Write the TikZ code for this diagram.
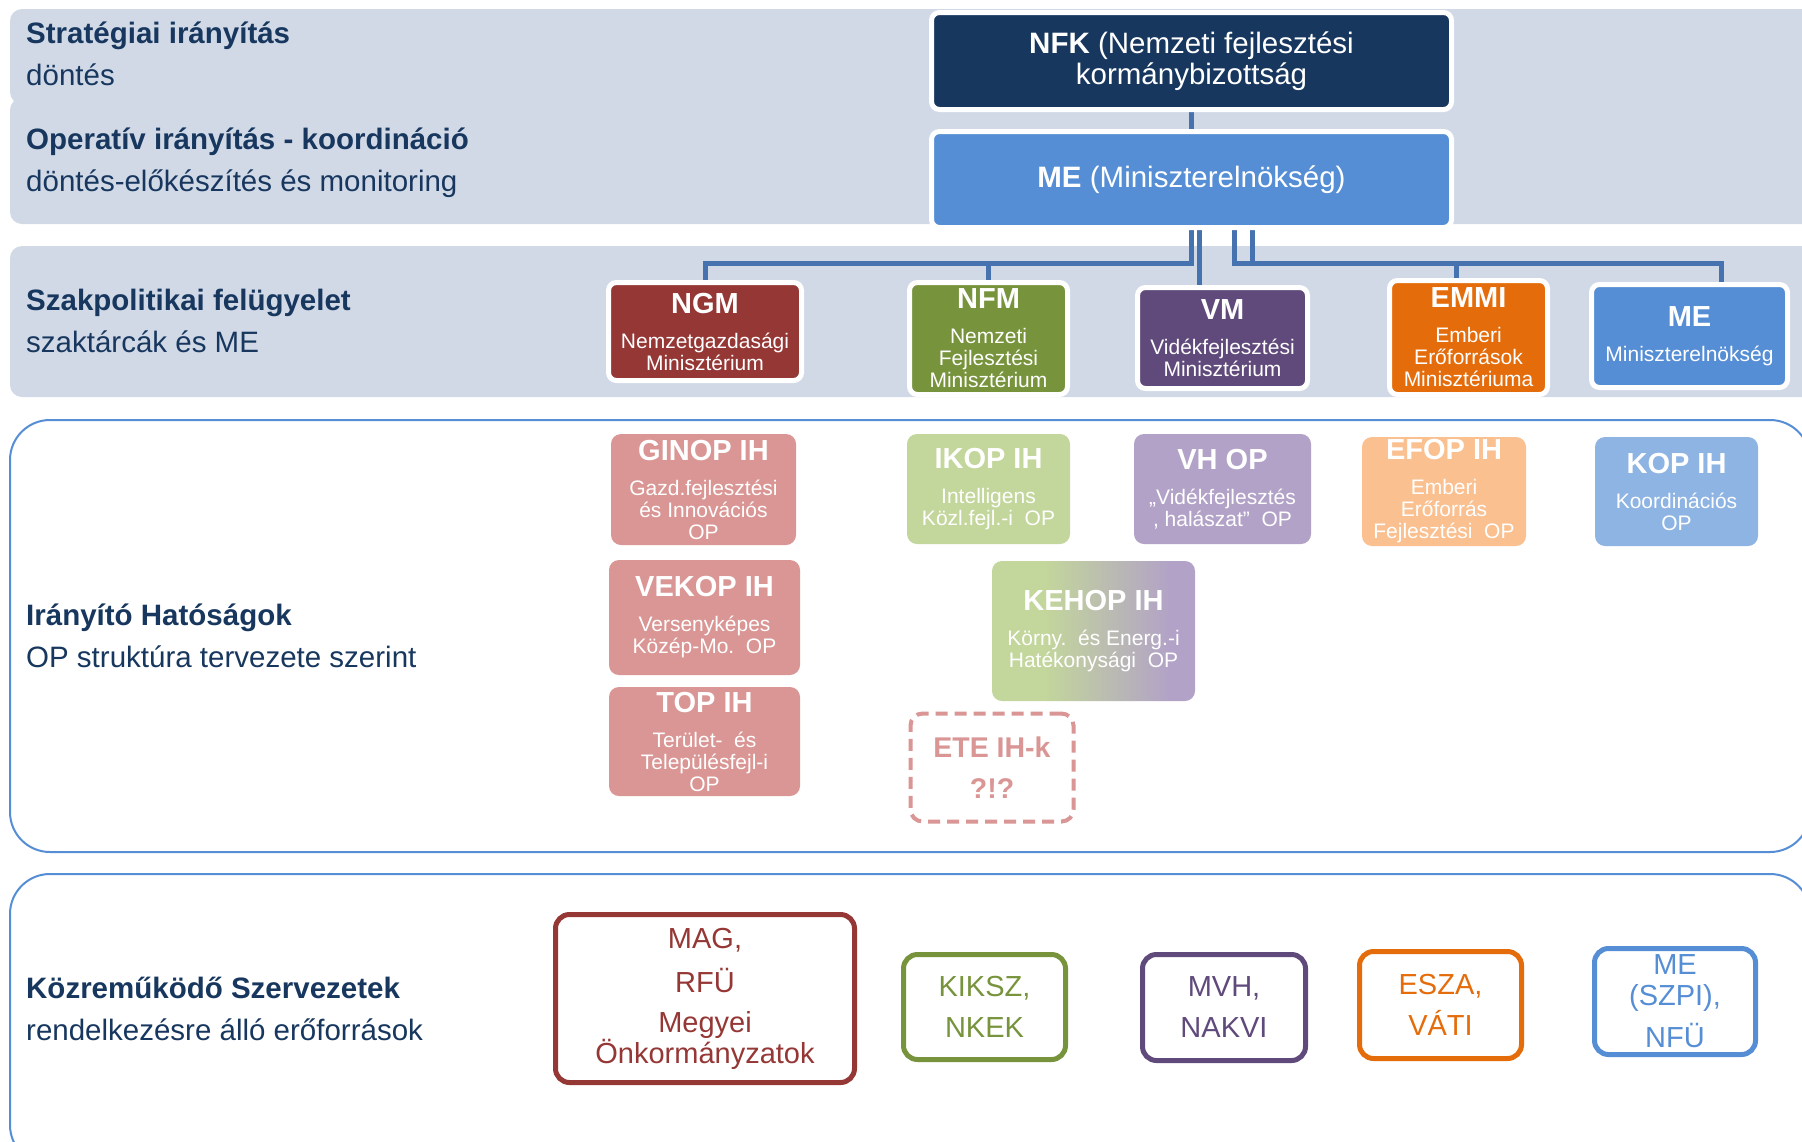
\documentclass[tikz,border=0pt]{standalone}
\usepackage{fontspec}
\setmainfont{Liberation Sans}
\definecolor{bandc}{HTML}{D1D9E7}
\definecolor{navy}{HTML}{17375E}
\definecolor{mebl}{HTML}{558ED5}
\definecolor{redc}{HTML}{953735}
\definecolor{greenc}{HTML}{77933C}
\definecolor{purplec}{HTML}{604A7B}
\definecolor{orangec}{HTML}{E46C0A}
\definecolor{pinkc}{HTML}{D99694}
\definecolor{lgreen}{HTML}{C3D69B}
\definecolor{lpurple}{HTML}{B2A2C7}
\definecolor{lorange}{HTML}{FAC090}
\definecolor{lblue}{HTML}{8EB4E3}
\definecolor{connc}{HTML}{4673B0}
\pgfdeclarehorizontalshading{kehopshade}{100bp}{color(0bp)=(lgreen); color(38bp)=(lgreen); color(69bp)=(lpurple); color(100bp)=(lpurple)}
\pgfdeclarelayer{bg}
\pgfdeclarelayer{connlayer}
\pgfsetlayers{bg,connlayer,main}
\newcommand\boxtitle[1]{{\fontsize{29}{22}\selectfont\bfseries #1}}
\tikzset{
  lbl/.style={anchor=west, align=left, text=navy, inner sep=0pt, font=\fontsize{29.5}{42}\selectfont},
  topbox/.style={draw=white, line width=5pt, rounded corners=8pt, text=white, align=center, inner sep=0pt, font=\fontsize{29.5}{31}\selectfont},
  mini/.style={draw=white, line width=5pt, rounded corners=8pt, text=white, align=center, inner sep=0pt, font=\fontsize{21}{22}\selectfont},
  ih/.style={rounded corners=10pt, text=white, align=center, inner sep=0pt, font=\fontsize{21}{22}\selectfont},
  kb/.style={draw, line width=5pt, rounded corners=14pt, fill=white, align=center, inner sep=0pt, font=\fontsize{29}{31}\selectfont},
  conn/.style={draw=connc, line width=5pt},
  bandline/.style={draw=mebl, line width=2pt, rounded corners=40pt},
}
\begin{document}
\begin{tikzpicture}[x=1pt,y=-1pt]
\useasboundingbox (0,0) rectangle (1802,1141);
\clip (0,0) rectangle (1802,1141);
\begin{pgfonlayer}{bg}
\fill[white] (0,0) rectangle (1802,1141);
\fill[bandc, rounded corners=12pt] (10,9) rectangle (1830,104);
\fill[bandc, rounded corners=12pt] (10,98) rectangle (1830,224);
\fill[bandc, rounded corners=12pt] (10,246) rectangle (1830,397);
\draw[bandline] (10,420) rectangle (1810,852);
\draw[bandline] (10,874) rectangle (1810,1165);
\end{pgfonlayer}

% left labels
\node[lbl] (l1) at (26,54) {\textbf{Stratégiai irányítás}\\döntés};
\node[lbl] (l2) at (26,163) {\textbf{Operatív irányítás - koordináció}\\döntés-előkészítés és monitoring};
\node[lbl] (l3) at (26,320.5) {\textbf{Szakpolitikai felügyelet}\\szaktárcák és ME};
\node[lbl] (l4) at (26,635.5) {\textbf{Irányító Hatóságok}\\OP struktúra tervezete szerint};
\node[lbl] (l5) at (26,1008.5) {\textbf{Közreműködő Szervezetek}\\rendelkezésre álló erőforrások};

% top boxes
\node[topbox, fill=navy, minimum width=520pt, minimum height=97pt] (nfk) at (1191.5,61) {\textbf{NFK} (Nemzeti fejlesztési\\kormánybizottság};
\node[topbox, fill=mebl, minimum width=520pt, minimum height=96pt] (me) at (1191.5,179.5) {\textbf{ME} (Miniszterelnökség)};

% ministries
\node[mini, fill=redc, minimum width=193pt, minimum height=98pt] (ngm) at (705,331.5) {\boxtitle{NGM}\\[13pt]Nemzetgazdasági\\Minisztérium};
\node[mini, fill=greenc, minimum width=158pt, minimum height=112pt] (nfm) at (988.5,338.5) {\boxtitle{NFM}\\[13pt]Nemzeti\\Fejlesztési\\Minisztérium};
\node[mini, fill=purplec, minimum width=170pt, minimum height=101pt] (vm) at (1222.5,338) {\boxtitle{VM}\\[13pt]Vidékfejlesztési\\Minisztérium};
\node[mini, fill=orangec, minimum width=158pt, minimum height=114pt] (emmi) at (1468.5,337.5) {\boxtitle{EMMI}\\[13pt]Emberi\\Erőforrások\\Minisztériuma};
\node[mini, fill=mebl, minimum width=196pt, minimum height=103pt] (me2) at (1689.5,336) {\boxtitle{ME}\\[13pt]Miniszterelnökség};

% connectors
\begin{pgfonlayer}{connlayer}
\draw[conn] (nfk.south) -- (me.north);
\draw[conn] (me.south) -- ++(0,33) -| (ngm.north);
\draw[conn] (me.south) -- ++(0,33) -| (nfm.north);
\draw[conn] ([xshift=8pt]me.south) -- ([xshift=8pt]me.south |- vm.north);
\draw[conn] ([xshift=43pt]me.south) -- ++(0,33) -| ([xshift=-12pt]emmi.north);
\draw[conn] ([xshift=61pt]me.south) -- ++(0,33) -| ([xshift=32pt]me2.north);
\end{pgfonlayer}

% managing authorities
\node[ih, fill=pinkc, minimum width=185pt, minimum height=111pt] (ginop) at (703.5,489.5) {\boxtitle{GINOP IH}\\[13pt]Gazd.fejlesztési\\és Innovációs\\OP};
\node[ih, fill=pinkc, minimum width=191pt, minimum height=115pt] (vekop) at (704.5,617.5) {\boxtitle{VEKOP IH}\\[13pt]Versenyképes\\Közép-Mo.\ \ OP};
\node[ih, fill=pinkc, minimum width=191pt, minimum height=109pt] (top) at (704.5,741.5) {\boxtitle{TOP IH}\\[13pt]Terület-\ \ és\\Településfejl-i\\OP};
\node[ih, fill=lgreen, minimum width=163pt, minimum height=110pt] (ikop) at (988.5,489) {\boxtitle{IKOP IH}\\[13pt]Intelligens\\Közl.fejl.-i\ \ OP};
\node[ih, fill=lpurple, minimum width=177pt, minimum height=110pt] (vhop) at (1222.5,489) {\boxtitle{VH OP}\\[13pt]„Vidékfejlesztés\\, halászat”\ \ OP};
\node[ih, fill=lorange, minimum width=164pt, minimum height=109pt] (efop) at (1444,491.5) {\boxtitle{EFOP IH}\\[13pt]Emberi\\Erőforrás\\Fejlesztési\ \ OP};
\node[ih, fill=lblue, minimum width=163pt, minimum height=109pt] (kop) at (1676.5,491.5) {\boxtitle{KOP IH}\\[13pt]Koordinációs\\OP};
\node[ih, shading=kehopshade, minimum width=203pt, minimum height=140pt] (kehop) at (1093.5,631) {\boxtitle{KEHOP IH}\\[13pt]Körny.\ \ és Energ.-i\\Hatékonysági\ \ OP};
\node[draw=pinkc, line width=4pt, dash pattern=on 12pt off 7pt, rounded corners=12pt, fill=white, text=pinkc, align=center, inner sep=0pt, minimum width=163pt, minimum height=108pt, font=\fontsize{28.5}{41}\selectfont\bfseries] (ete) at (992,767.5) {ETE IH-k\\?!?};

% intermediate bodies
\node[kb, draw=redc, text=redc, minimum width=299pt, minimum height=168pt] (mag) at (705,998.5) {MAG,\\[13pt]RFÜ\\[9pt]Megyei\\Önkormányzatok};
\node[kb, draw=greenc, text=greenc, minimum width=162pt, minimum height=105pt] (kiksz) at (984.5,1007) {KIKSZ,\\[10pt]NKEK};
\node[kb, draw=purplec, text=purplec, minimum width=163pt, minimum height=106pt] (mvh) at (1224,1007.5) {MVH,\\[10pt]NAKVI};
\node[kb, draw=orangec, text=orangec, minimum width=162pt, minimum height=107pt] (esza) at (1440.5,1005) {ESZA,\\[10pt]VÁTI};
\node[kb, draw=mebl, text=mebl, minimum width=161pt, minimum height=106pt] (mesz) at (1675,1001.5) {ME\\(SZPI),\\[11pt]NFÜ};
\end{tikzpicture}
\end{document}
